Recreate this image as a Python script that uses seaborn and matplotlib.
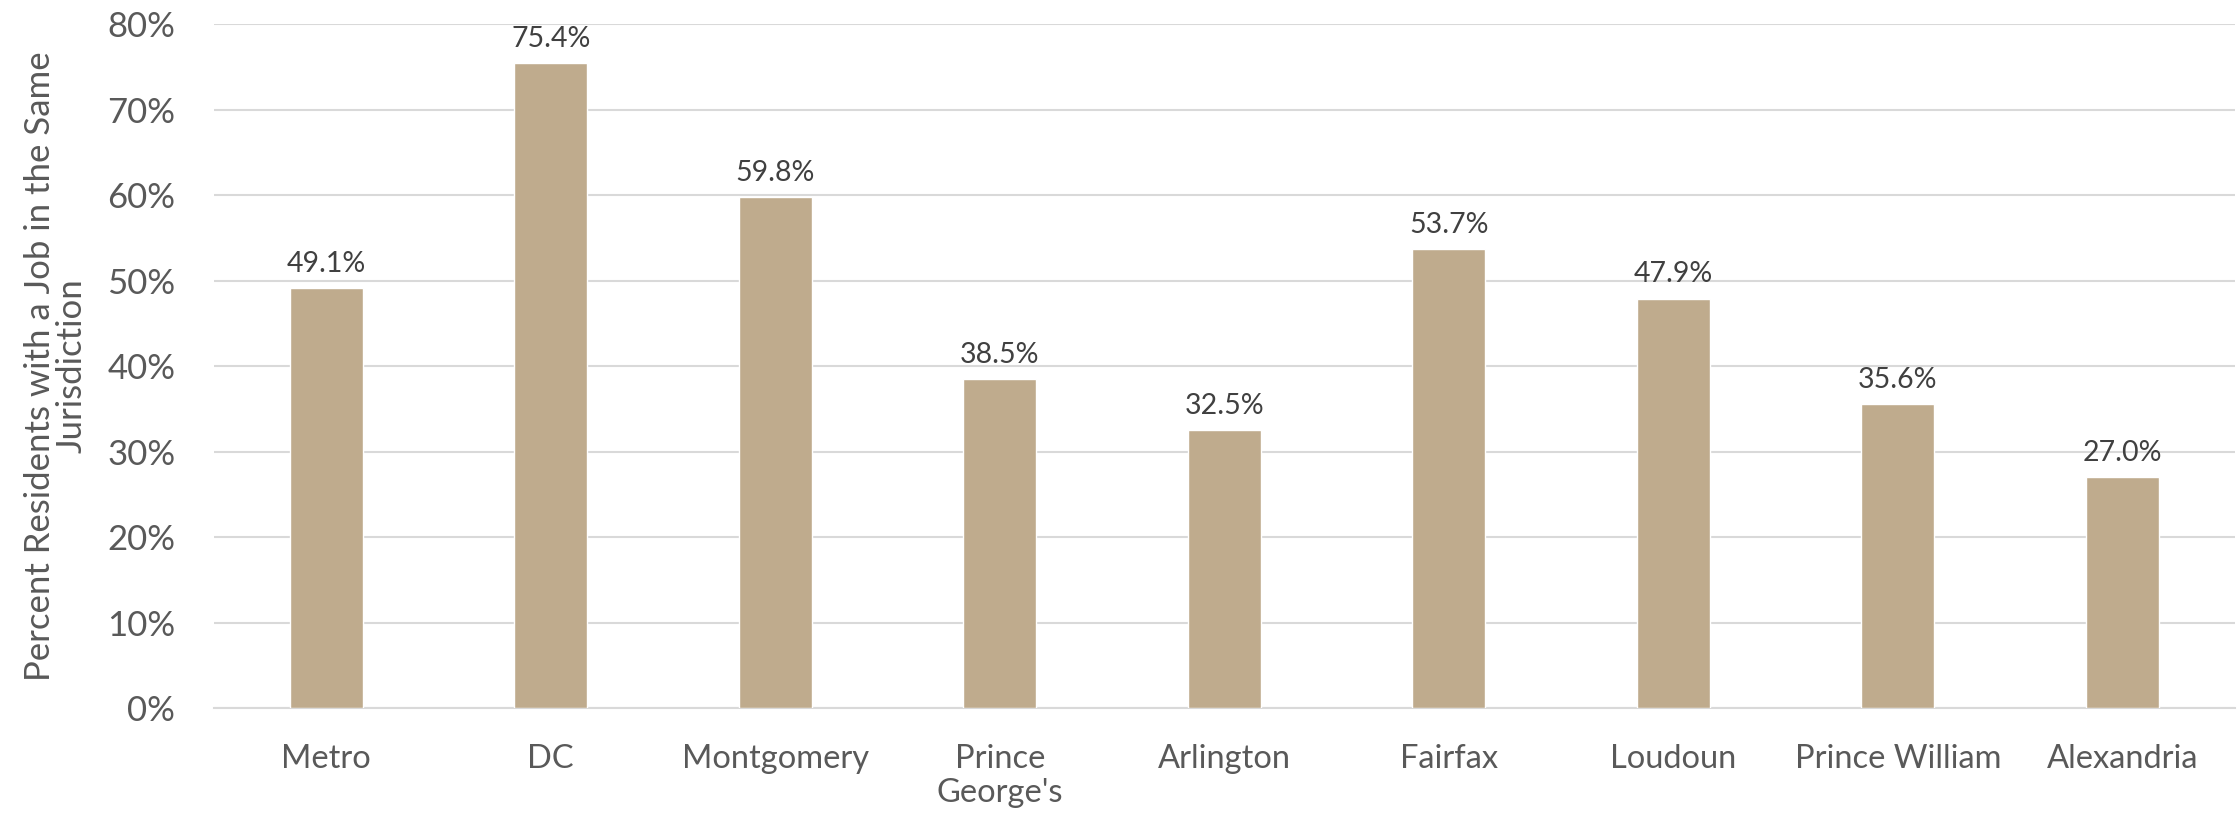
import matplotlib
matplotlib.use("Agg")
import matplotlib.pyplot as plt
import seaborn as sns
import pandas as pd
from matplotlib.ticker import FuncFormatter

categories = ["Metro", "DC", "Montgomery", "Prince\nGeorge's", "Arlington",
              "Fairfax", "Loudoun", "Prince William", "Alexandria"]
values = [49.1, 75.4, 59.8, 38.5, 32.5, 53.7, 47.9, 35.6, 27.0]
yticks = [0, 10, 20, 30, 40, 50, 60, 70, 80]
ylabel = "Percent Residents with a Job in the Same\nJurisdiction"

sns.set_theme(style="white")
plt.rcParams['font.family'] = ['Lato', 'DejaVu Sans']

df = pd.DataFrame({"cat": categories, "val": values})

fig = plt.figure(figsize=(22.39, 8.19), dpi=100)
ax = fig.add_axes([0.0956, 0.1355, 0.9024, 0.835])

sns.barplot(data=df, x="cat", y="val", color="#BFAB8D", saturation=1,
            width=0.325, ax=ax, zorder=3)

ax.set_xlim(-0.5, len(categories) - 0.5)
ax.set_ylim(0, 80)
ax.set_yticks(yticks)
ax.yaxis.set_major_formatter(FuncFormatter(lambda v, p: f"{v:.0f}%"))
ax.grid(axis="y", color="#D9D9D9", linewidth=1.5, zorder=0)
ax.set_axisbelow(True)
for s in ["top", "right", "left"]:
    ax.spines[s].set_visible(False)
ax.spines["bottom"].set_color("#D9D9D9")
ax.spines["bottom"].set_linewidth(1.5)

ax.tick_params(axis="y", labelsize=25, colors="#595959", length=0, pad=28)
ax.tick_params(axis="x", labelsize=23.5, colors="#595959", length=0, pad=26)
for t in ax.get_xticklabels():
    t.set_linespacing(1.15)
ax.set_xlabel("")
ax.set_ylabel(ylabel, fontsize=25, color="#595959", labelpad=14, linespacing=1.0)

for i, v in enumerate(values):
    ax.annotate(f"{v:.1f}%", (i, v), xytext=(0, 8), textcoords="offset points",
                ha="center", va="bottom", fontsize=20.5, color="#404040")

fig.savefig("out.png", dpi=100)
